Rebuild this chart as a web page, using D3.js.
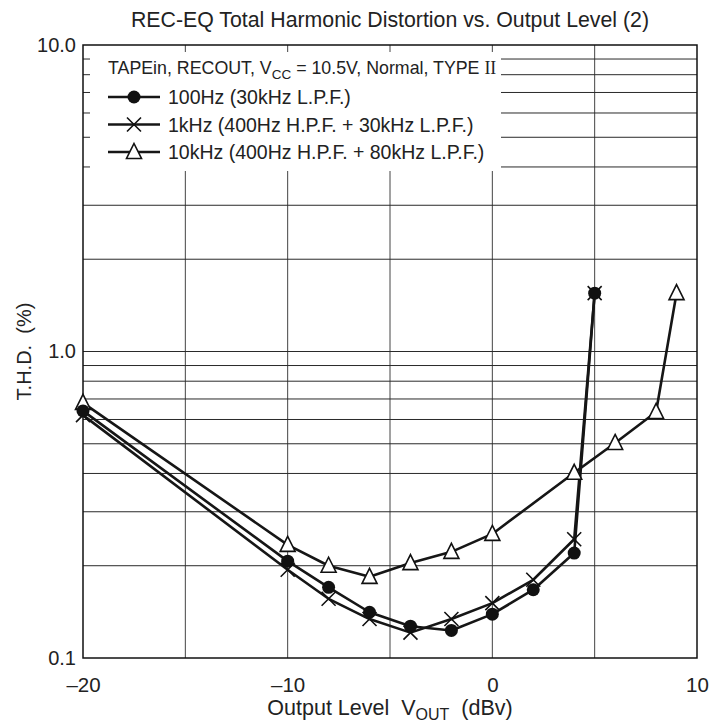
<!DOCTYPE html>
<html>
<head>
<meta charset="utf-8">
<script src="https://cdn.jsdelivr.net/npm/d3@7"></script>
<style>
  body { margin: 0; background: #fff; }
  svg { display: block; font-family: "Liberation Sans", Arial, sans-serif; }
</style>
</head>
<body>
<svg id="chart" width="712" height="728"></svg>
<script>
// ---- data ----
const xLevels100 = [-20, -10, -8, -6, -4, -2, 0, 2, 4, 5];
const thd100Hz   = [0.64, 0.207, 0.170, 0.141, 0.127, 0.123, 0.139, 0.167, 0.220, 1.55];
const xLevels1k  = [-20, -10, -8, -6, -4, -2, 0, 2, 4, 5];
const thd1kHz    = [0.62, 0.194, 0.156, 0.134, 0.121, 0.134, 0.151, 0.180, 0.244, 1.55];
const xLevels10k = [-20, -10, -8, -6, -4, -2, 0, 4, 6, 8, 9];
const thd10kHz   = [0.68, 0.234, 0.200, 0.184, 0.204, 0.222, 0.254, 0.402, 0.503, 0.635, 1.55];
const seriesNames = ["100Hz (30kHz L.P.F.)", "1kHz (400Hz H.P.F. + 30kHz L.P.F.)", "10kHz (400Hz H.P.F. + 80kHz L.P.F.)"];
const xTickValues = [-20, -10, 0, 10];
const xGridValues = [-15, -10, -5, 0, 5];
const yTickValues = [0.1, 1, 10];
const yGridValues = [0.2, 0.3, 0.4, 0.5, 0.6, 0.7, 0.8, 0.9, 1, 2, 3, 4, 5, 6, 7, 8, 9];

// ---- layout ----
const W = 712, H = 728;
const m = { left: 83, right: 15, top: 45, bottom: 70 };
const svg = d3.select("#chart");
const x = d3.scaleLinear().domain([-20, 10]).range([m.left, W - m.right]);
const y = d3.scaleLog().domain([0.1, 10]).range([H - m.bottom, m.top]);

// gridlines
const grid = svg.append("g");
grid.selectAll("line.v").data(xGridValues).join("line")
  .attr("x1", d => x(d)).attr("x2", d => x(d))
  .attr("y1", y(10)).attr("y2", y(0.1))
  .attr("stroke", "#444").attr("stroke-width", 1);
grid.selectAll("line.h").data(yGridValues).join("line")
  .attr("x1", x(-20)).attr("x2", x(10))
  .attr("y1", d => y(d)).attr("y2", d => y(d))
  .attr("stroke", "#2a2a2a").attr("stroke-width", 1);

// legend background (hides grid under legend, leaving edge stubs)
svg.append("rect")
  .attr("x", x(-20) + 7).attr("y", y(10) + 7)
  .attr("width", 501 - (x(-20) + 7)).attr("height", 171 - (y(10) + 7))
  .attr("fill", "#fff");

// frame
svg.append("rect")
  .attr("x", x(-20)).attr("y", y(10))
  .attr("width", x(10) - x(-20)).attr("height", y(0.1) - y(10))
  .attr("fill", "none").attr("stroke", "#111").attr("stroke-width", 1.5);

// axes labels
const xAxis = svg.append("g").attr("transform", `translate(0,${y(0.1)})`)
  .call(d3.axisBottom(x).tickValues(xTickValues).tickSize(0)
    .tickFormat(d => (d < 0 ? "\u2013" + Math.abs(d) : String(d))));
xAxis.select(".domain").remove();
xAxis.selectAll("text").attr("y", 34).attr("dy", 0)
  .attr("font-size", 20.5).attr("fill", "#222").attr("font-family", "Liberation Sans, Arial, sans-serif");

const yAxis = svg.append("g").attr("transform", `translate(${x(-20)},0)`)
  .call(d3.axisLeft(y).tickValues(yTickValues).tickSize(0).tickFormat(d3.format(".1f")));
yAxis.select(".domain").remove();
yAxis.selectAll("text").attr("x", -7).attr("dy", "0.3em")
  .attr("font-size", 20).attr("fill", "#222").attr("font-family", "Liberation Sans, Arial, sans-serif");

// title
svg.append("text").attr("x", (x(-20) + x(10)) / 2).attr("y", 27)
  .attr("text-anchor", "middle").attr("font-size", 21.3).attr("fill", "#222")
  .text("REC-EQ Total Harmonic Distortion vs. Output Level (2)");

// x label
const xl = svg.append("text").attr("x", (x(-20) + x(10)) / 2).attr("y", 715)
  .attr("text-anchor", "middle").attr("font-size", 21.5).attr("fill", "#222")
  .attr("xml:space", "preserve");
xl.append("tspan").text("Output Level  V");
xl.append("tspan").attr("font-size", 16).attr("dy", 5).text("OUT");
xl.append("tspan").attr("dy", -5).text("  (dBv)");

// y label
svg.append("text")
  .attr("transform", `translate(31,${y(1)}) rotate(-90)`)
  .attr("text-anchor", "middle").attr("font-size", 20).attr("fill", "#222")
  .attr("xml:space", "preserve")
  .text("T.H.D.  (%)");

// series
const series = [
  { name: seriesNames[0], xs: xLevels100, vs: thd100Hz, marker: "circle" },
  { name: seriesNames[1], xs: xLevels1k, vs: thd1kHz, marker: "cross" },
  { name: seriesNames[2], xs: xLevels10k, vs: thd10kHz, marker: "triangle" }
];
const line = d3.line().x(d => x(d[0])).y(d => y(d[1]));

function drawMarker(g, type, cx, cy) {
  if (type === "circle") {
    g.append("circle").attr("cx", cx).attr("cy", cy).attr("r", 6.5).attr("fill", "#111");
  } else if (type === "cross") {
    const s = 7;
    g.append("path").attr("d", `M${cx - s},${cy - s}L${cx + s},${cy + s}M${cx - s},${cy + s}L${cx + s},${cy - s}`)
      .attr("stroke", "#111").attr("stroke-width", 1.6).attr("fill", "none");
  } else {
    const s = 7.5;
    g.append("path").attr("d", `M${cx},${cy - s - 1}L${cx + s},${cy + s - 1}L${cx - s},${cy + s - 1}Z`)
      .attr("fill", "#fff").attr("stroke", "#111").attr("stroke-width", 1.6);
  }
}

const plot = svg.append("g");
series.forEach(s => {
  const pts = s.xs.map((v, i) => [v, s.vs[i]]);
  plot.append("path").datum(pts).attr("d", line)
    .attr("fill", "none").attr("stroke", "#161616").attr("stroke-width", 2.6)
    .attr("stroke-linejoin", "round");
});
// markers: crosses, triangles, then circles on top
[series[1], series[2], series[0]].forEach(s => {
  const g = plot.append("g");
  s.xs.forEach((v, i) => drawMarker(g, s.marker, x(v), y(s.vs[i])));
});

// legend
const lg = svg.append("g").attr("fill", "#222");
const lt = lg.append("text").attr("x", 108).attr("y", 74).attr("font-size", 17.8).attr("xml:space", "preserve");
lt.append("tspan").text("TAPEin, RECOUT, V");
lt.append("tspan").attr("font-size", 13.5).attr("dy", 5).text("CC");
lt.append("tspan").attr("dy", -5).text(" = 10.5V, Normal, TYPE ");
lt.append("tspan").attr("font-family", "Liberation Serif, Times New Roman, serif").text("II");

series.forEach((s, i) => {
  const ly = 97 + i * 27.5;
  lg.append("line").attr("x1", 108).attr("x2", 160).attr("y1", ly).attr("y2", ly)
    .attr("stroke", "#161616").attr("stroke-width", 2.6);
  drawMarker(lg.append("g"), s.marker, 134, ly);
  lg.append("text").attr("x", 168).attr("y", ly + 7).attr("font-size", 19.5).text(s.name);
});
</script>
</body>
</html>
